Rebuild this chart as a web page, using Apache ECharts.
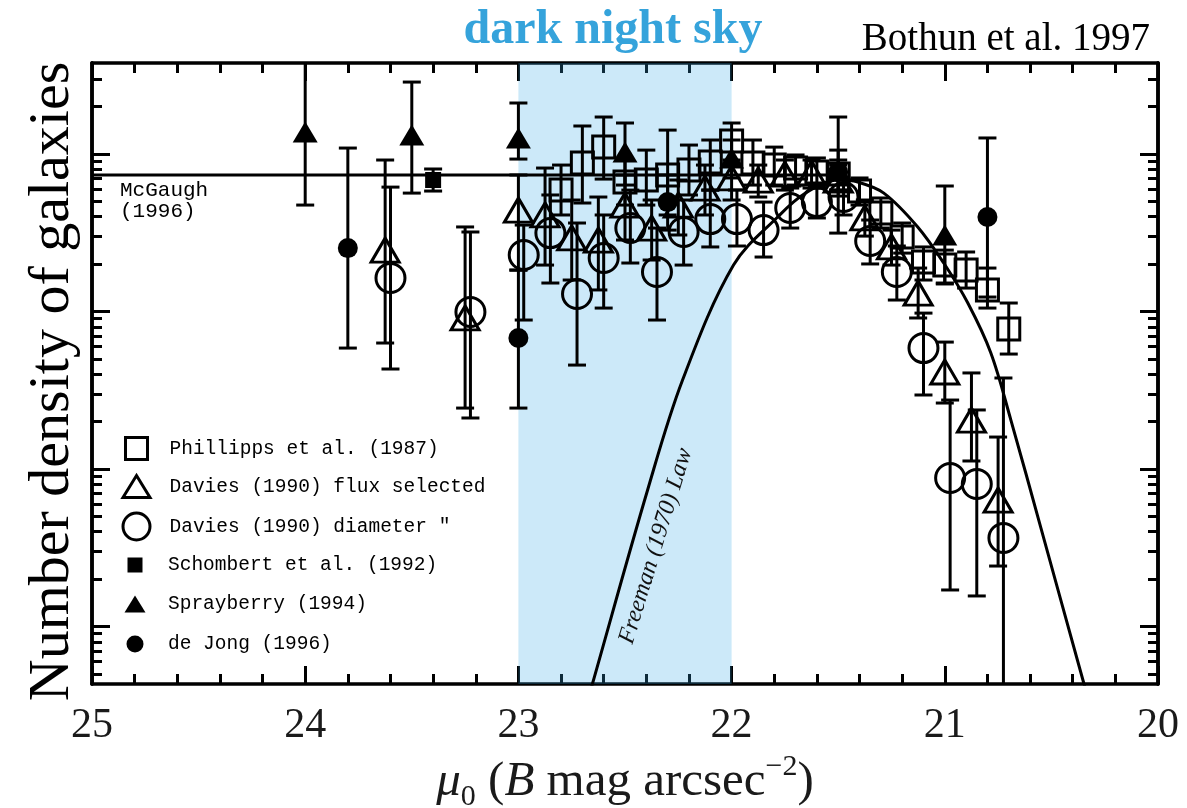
<!DOCTYPE html>
<html><head><meta charset="utf-8">
<script src="https://cdn.jsdelivr.net/npm/echarts@6/dist/echarts.min.js"></script>
<style>html,body{margin:0;padding:0;background:#fff}#c{width:1187px;height:808px}</style>
</head><body><div id="c"></div>
<script>
// ---------- DATA (x = mu_0 in B mag arcsec^-2, y = log10 of number density) ----------
const phillippsMu   = [22.8, 22.7, 22.6, 22.5, 22.4, 22.3, 22.2, 22.1, 22.0, 21.9, 21.8, 21.7, 21.6, 21.5, 21.4, 21.3, 21.2, 21.1, 21.0, 20.9, 20.8, 20.7];
const phillippsLogN = [-0.229, -0.057, 0.044, -0.178, -0.165, -0.133, -0.102, -0.051, 0.083, -0.057, -0.070, -0.089, -0.114, -0.127, -0.235, -0.375, -0.527, -0.686, -0.705, -0.737, -0.863, -1.111];
const phillippsHi   = [-0.070, 0.178, 0.235, -0.038, 0.025, 0.152, 0.057, 0.089, 0.197, 0.089, 0.044, -0.006, -0.025, -0.038, -0.152, -0.279, -0.438, -0.590, -0.610, -0.622, -0.724, -0.946];
const phillippsLo   = [-0.387, -0.311, -0.159, -0.324, -0.324, -0.387, -0.260, -0.229, -0.057, -0.197, -0.197, -0.197, -0.216, -0.229, -0.324, -0.470, -0.629, -0.800, -0.819, -0.851, -0.978, -1.270];

const fluxMu   = [23.625, 23.25, 23.0, 22.875, 22.75, 22.625, 22.5, 22.375, 22.25, 22.125, 22.0, 21.875, 21.75, 21.625, 21.5, 21.375, 21.25, 21.125, 21.0, 20.875, 20.75];
const fluxLogN = [-0.610, -1.041, -0.356, -0.387, -0.533, -0.546, -0.324, -0.470, -0.324, -0.216, -0.152, -0.165, -0.127, -0.121, -0.165, -0.406, -0.590, -0.883, -1.384, -1.689, -2.197];
const fluxHi   = [-0.038, -0.463, -0.133, -0.089, -0.292, -0.273, -0.133, -0.292, -0.165, -0.070, -0.038, -0.070, -0.038, -0.038, -0.070, -0.292, -0.483, -0.724, -1.194, -1.390, -1.797];
const fluxLo   = [-1.200, -1.613, -0.737, -0.705, -0.800, -0.863, -0.546, -0.673, -0.514, -0.387, -0.292, -0.273, -0.229, -0.216, -0.267, -0.521, -0.705, -1.041, -1.581, -1.949, -2.616];

const diamMu   = [23.6, 23.225, 22.975, 22.85, 22.725, 22.6, 22.475, 22.35, 22.225, 22.1, 21.975, 21.85, 21.725, 21.6, 21.475, 21.35, 21.225, 21.1, 20.975, 20.85, 20.725];
const diamLogN = [-0.787, -1.003, -0.641, -0.502, -0.889, -0.660, -0.470, -0.749, -0.495, -0.413, -0.413, -0.483, -0.343, -0.305, -0.273, -0.552, -0.749, -1.232, -2.057, -2.095, -2.438];
const diamHi   = [-0.210, -0.495, -0.451, -0.260, -0.438, -0.387, -0.229, -0.470, -0.292, -0.229, -0.229, -0.305, -0.216, -0.203, -0.165, -0.419, -0.584, -1.010, -1.562, -1.625, -1.422];
const diamLo   = [-1.365, -1.676, -1.054, -0.819, -1.340, -0.978, -0.692, -1.054, -0.705, -0.590, -0.584, -0.654, -0.470, -0.406, -0.387, -0.698, -0.927, -1.530, -2.768, -2.806, -3.600];

const schombertMu   = [23.4];
const schombertLogN = [-0.165];
const schombertHi   = [-0.095];
const schombertLo   = [-0.235];

const sprayMu   = [24.0, 23.5, 23.0, 22.5, 22.0, 21.5, 21.0];
const sprayLogN = [0.140, 0.121, 0.102, 0.013, -0.025, -0.102, -0.514];
const sprayHi   = [0.650, 0.457, 0.324, 0.197, 0.089, 0.025, -0.203];
const sprayLo   = [-0.324, -0.248, -0.032, -0.197, -0.152, -0.229, -0.825];

const dejongMu   = [23.8, 23.0, 22.3, 21.5, 20.8];
const dejongLogN = [-0.597, -1.168, -0.305, -0.114, -0.400];
const dejongHi   = [0.038, -0.737, -0.133, 0.235, 0.102];
const dejongLo   = [-1.232, -1.613, -0.483, -0.502, -0.908];

const mcgaughMu   = [25.0, 21.5];
const mcgaughLogN = [-0.133, -0.133];

const freemanMu   = [22.681, 22.653, 22.394, 22.230, 21.991, 21.784, 21.653, 21.498, 21.408, 21.286, 21.127, 21.005, 20.892, 20.784, 20.690, 20.549, 20.347, 20.319];
const freemanLogN = [-3.498, -3.365, -2.133, -1.435, -0.705, -0.400, -0.248, -0.165, -0.178, -0.248, -0.463, -0.692, -0.946, -1.263, -1.689, -2.375, -3.365, -3.498];

const darkSkyBand = [23.0, 22.0];
const xTickValues = [20, 21, 22, 23, 24, 25];
const yLogMin = -3.365, yLogMax = 0.578;

const names = {
  phil: 'Phillipps et al. (1987)',
  flux: 'Davies (1990) flux selected',
  diam: 'Davies (1990) diameter \u2033',
  scho: 'Schombert et al. (1992)',
  spray: 'Sprayberry (1994)',
  dej: 'de Jong (1996)'
};

// ---------- build ----------
const P = v => Math.pow(10, v);
const pts = (mu, L) => mu.map((m, i) => [m, P(L[i])]);
const bars = (mu, hi, lo) => mu.map((m, i) => [m, P(hi[i]), P(lo[i])]);

const majorY = [1e-3, 1e-2, 1e-1, 1];
const minorY = [];
for (let e = -4; e <= 0; e++) for (let k = 2; k <= 9; k++) {
  const v = k * Math.pow(10, e);
  if (Math.log10(v) > yLogMin && Math.log10(v) < yLogMax) minorY.push(v);
}

function errBar(name, data) {
  return {
    type: 'custom', name: name + ' err', data: data, clip: true, z: 3, silent: true,
    encode: { x: 0, y: [1, 2] },
    renderItem: function (params, api) {
      const x = api.value(0);
      const a = api.coord([x, api.value(1)]);
      const b = api.coord([x, api.value(2)]);
      const w = 9, st = { stroke: '#000', lineWidth: 3 };
      return { type: 'group', children: [
        { type: 'line', shape: { x1: a[0], y1: a[1], x2: b[0], y2: b[1] }, style: st },
        { type: 'line', shape: { x1: a[0] - w, y1: a[1], x2: a[0] + w, y2: a[1] }, style: st },
        { type: 'line', shape: { x1: b[0] - w, y1: b[1], x2: b[0] + w, y2: b[1] }, style: st }
      ]};
    }
  };
}
const hollow = { color: 'rgba(0,0,0,0)', borderColor: '#000', borderWidth: 3, opacity: 1 };
const filled = { color: '#000', borderColor: '#000', borderWidth: 0, opacity: 1 };
function scat(name, data, symbol, size, style) {
  return { type: 'scatter', name: name, data: data, symbol: symbol, symbolSize: size,
    itemStyle: style, z: 5, clip: true, silent: true, emphasis: { disabled: true } };
}

const tickLine = { color: '#000', width: 3 };
function yAx(pos, major) {
  return {
    type: 'log', logBase: 10, min: P(yLogMin), max: P(yLogMax), position: pos,
    axisLine: { show: true, lineStyle: { color: '#000', width: 3.5 } },
    axisTick: { show: true, inside: true, length: major ? 18 : 10, customValues: major ? majorY : minorY, lineStyle: tickLine },
    axisLabel: { show: false }, splitLine: { show: false }, minorTick: { show: false }
  };
}
function xAx(pos) {
  return {
    type: 'value', position: pos, min: 20, max: 25, interval: 1, inverse: true,
    axisLine: { show: true, lineStyle: { color: '#000', width: 3.5 } },
    axisTick: { show: true, inside: true, length: 18, lineStyle: tickLine },
    minorTick: { show: true, splitNumber: 5, length: 10, lineStyle: tickLine },
    splitLine: { show: false },
    axisLabel: { show: pos === 'bottom', margin: 21, fontFamily: 'Liberation Serif', fontSize: 42, color: '#1a1a1a',
      formatter: v => xTickValues.indexOf(v) >= 0 ? String(v) : '' }
  };
}

const xA = [xAx('bottom'), xAx('top')];
xA[0].name = '{mu|\u03bc}{sub|0} ({it|B} mag arcsec{sup|\u22122})';
xA[0].nameLocation = 'middle';
xA[0].nameGap = 59;
const nameFs = 49, subFs = 30, lh = 60;
xA[0].nameTextStyle = {
  fontFamily: 'Liberation Serif', fontSize: nameFs, color: '#1a1a1a', lineHeight: lh,
  rich: {
    mu: { fontFamily: 'Liberation Serif', fontStyle: 'italic', fontSize: nameFs, lineHeight: lh, verticalAlign: 'middle', color: '#1a1a1a' },
    sub: { fontFamily: 'Liberation Serif', fontSize: subFs, lineHeight: lh, verticalAlign: 'bottom', color: '#1a1a1a' },
    it: { fontFamily: 'Liberation Serif', fontStyle: 'italic', fontSize: nameFs, lineHeight: lh, verticalAlign: 'middle', color: '#1a1a1a' },
    sup: { fontFamily: 'Liberation Serif', fontSize: subFs, lineHeight: lh, verticalAlign: 'top', color: '#1a1a1a' }
  }
};
const yA = [yAx('left', true), yAx('left', false), yAx('right', true), yAx('right', false)];
yA[0].name = 'Number density of galaxies';
yA[0].nameLocation = 'middle';
yA[0].nameGap = 10;
yA[0].nameRotate = 90;
yA[0].nameTextStyle = { fontFamily: 'Liberation Serif', fontSize: 58, color: '#000', padding: [0, 16, 0, 0] };

function legendFor(name, icon, w, h, cy, style) {
  const top = h >= 20 ? cy - h / 2 : cy - 10;
  return {
    show: true, orient: 'horizontal', left: 135 - w / 2, top: top, padding: 0, itemGap: 0,
    itemWidth: w, itemHeight: h, selectedMode: false,
    data: [{ name: name, icon: icon, itemStyle: style }],
    itemStyle: style,
    textStyle: { fontFamily: 'Liberation Mono', fontSize: 19.5, color: '#000', padding: [0, 0, 0, 28 - w / 2] }
  };
}

const option = {
  backgroundColor: '#fff',
  animation: false,
  grid: { left: 92, right: 29, top: 63, bottom: 124, containLabel: false, outerBoundsMode: 'none' },
  xAxis: xA,
  yAxis: yA,
  legend: [
    legendFor(names.phil, 'rect', 22, 22, 447, hollow),
    legendFor(names.flux, 'triangle', 27, 22, 485, hollow),
    legendFor(names.diam, 'circle', 27, 27, 525, hollow),
    legendFor(names.scho, 'rect', 15, 15, 565, filled),
    legendFor(names.spray, 'triangle', 21, 17, 604, filled),
    legendFor(names.dej, 'circle', 17, 17, 644, filled)
  ],
  graphic: [
    { type: 'text', x: 613, y: 31, z: 50, style: { text: 'dark night sky', font: 'bold 48px "Liberation Serif"', fill: '#35a3db', textAlign: 'center', textVerticalAlign: 'middle', align: 'center', verticalAlign: 'middle' } },
    { type: 'text', x: 1150, y: 40, z: 50, style: { text: 'Bothun et al. 1997', font: '39px "Liberation Serif"', fill: '#000', textAlign: 'right', textVerticalAlign: 'middle', align: 'right', verticalAlign: 'middle' } },
    { type: 'text', x: 120, y: 190, z: 50, style: { text: 'McGaugh', font: '21px "Liberation Mono"', fill: '#000', textAlign: 'left', textVerticalAlign: 'middle', align: 'left', verticalAlign: 'middle' } },
    { type: 'text', x: 120, y: 211, z: 50, style: { text: '(1996)', font: '21px "Liberation Mono"', fill: '#000', textAlign: 'left', textVerticalAlign: 'middle', align: 'left', verticalAlign: 'middle' } },
    { type: 'text', x: 656, y: 546, rotation: 73 * Math.PI / 180, z: 50, style: { text: 'Freeman (1970) Law', font: 'italic 24px "Liberation Serif"', fill: '#111', textAlign: 'center', textVerticalAlign: 'middle', align: 'center', verticalAlign: 'middle' } }
  ],
  series: [
    { type: 'line', name: 'McGaugh (1996)', data: pts(mcgaughMu, mcgaughLogN), symbol: 'none', z: 4, silent: true,
      lineStyle: { color: '#000', width: 3 } },
    { type: 'line', name: 'Freeman (1970) Law', data: pts(freemanMu, freemanLogN), symbol: 'none', smooth: 0.35, z: 4, silent: true, clip: true,
      lineStyle: { color: '#000', width: 3 } },
    errBar(names.phil, bars(phillippsMu, phillippsHi, phillippsLo)),
    errBar(names.flux, bars(fluxMu, fluxHi, fluxLo)),
    errBar(names.diam, bars(diamMu, diamHi, diamLo)),
    errBar(names.scho, bars(schombertMu, schombertHi, schombertLo)),
    errBar(names.spray, bars(sprayMu, sprayHi, sprayLo)),
    errBar(names.dej, bars(dejongMu, dejongHi, dejongLo)),
    scat(names.phil, pts(phillippsMu, phillippsLogN), 'rect', 22, hollow),
    scat(names.flux, pts(fluxMu, fluxLogN), 'triangle', [28, 24], hollow),
    scat(names.diam, pts(diamMu, diamLogN), 'circle', 29, hollow),
    scat(names.scho, pts(schombertMu, schombertLogN), 'rect', 16, filled),
    scat(names.spray, pts(sprayMu, sprayLogN), 'triangle', [25, 21], filled),
    scat(names.dej, pts(dejongMu, dejongLogN), 'circle', 20, filled),
    { type: 'line', name: 'dark night sky band', data: [], z: 20, silent: true,
      markArea: { silent: true, itemStyle: { color: 'rgba(52,168,232,0.25)' },
        data: [[{ xAxis: darkSkyBand[0] }, { xAxis: darkSkyBand[1] }]] } }
  ]
};

const chart = echarts.init(document.getElementById('c'), null, { renderer: 'canvas' });
chart.setOption(option);
</script>
</body></html>
